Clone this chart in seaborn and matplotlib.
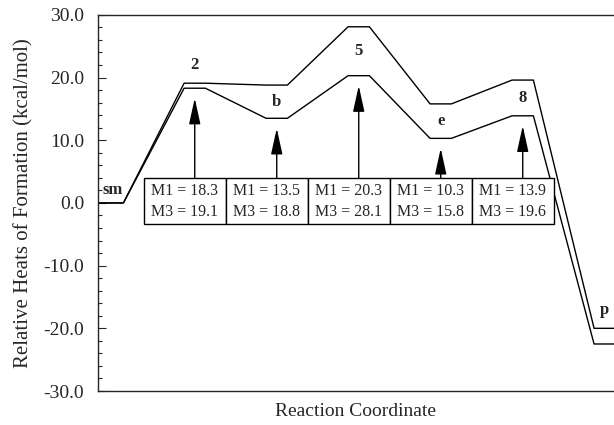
import numpy as np
import pandas as pd
import matplotlib.pyplot as plt
import matplotlib.patches as mpatches
from matplotlib.ticker import MultipleLocator, FormatStrFormatter
import seaborn as sns

# Relative heats of formation (kcal/mol) along the reaction coordinate
states = ['sm', '2', 'b', '5', 'e', '8', 'p']
m1 = [0.0, 18.3, 13.5, 20.3, 10.3, 13.9, -22.5]
m3 = [0.0, 19.1, 18.8, 28.1, 15.8, 19.6, -20.0]
boxed = ['2', 'b', '5', 'e', '8']

sns.set_style('ticks')
plt.rcParams['font.family'] = ['Liberation Serif', 'DejaVu Serif']

fig = plt.figure(figsize=(6.14, 4.25), dpi=100)
ax = fig.add_axes([0.1596, 0.08, 0.852, 0.885])
xmin, xmax = -0.18, 6.2
half = 0.13

# build the level diagram path for each method
rows = []
for method, vals in (('M1', m1), ('M3', m3)):
    for i, e in enumerate(vals):
        left = xmin if i == 0 else i - half
        rows.append({'method': method, 'x': left, 'E': e})
        rows.append({'method': method, 'x': i + half, 'E': e})
df = pd.DataFrame(rows)

sns.lineplot(data=df, x='x', y='E', hue='method', units='method', estimator=None,
             sort=False, palette={'M1': 'black', 'M3': 'black'}, linewidth=1.0,
             legend=False, ax=ax)

# state labels
for i, name in enumerate(states):
    lo, hi = min(m1[i], m3[i]), max(m1[i], m3[i])
    if hi - lo > 3:
        ly = (lo + hi) / 2
    elif hi == lo:
        ly = hi + 2.0
    else:
        ly = hi + 2.9
    ax.text(i, ly, name, ha='center', va='center', fontsize=12, fontweight='bold')

# value boxes with arrows pointing at the M1 level
box_top, box_bot = 4.0, -3.35
for name in boxed:
    i = states.index(name)
    rect = mpatches.Rectangle((i - 0.62, box_bot), 1.0, box_top - box_bot,
                              facecolor='white', edgecolor='black', linewidth=1.0, zorder=3)
    ax.add_patch(rect)
    ax.text(i - 0.12, (box_top + box_bot) / 2 - 0.1, f'M1 = {m1[i]:.1f}\nM3 = {m3[i]:.1f}',
            ha='center', va='center', fontsize=11.5, linespacing=1.45, zorder=4)
    ax.annotate('', xy=(i, m1[i] - 1.6), xytext=(i, box_top),
                arrowprops=dict(arrowstyle='-|>,head_length=1.0,head_width=0.22',
                                color='black', lw=1.0,
                                mutation_scale=16, shrinkA=0, shrinkB=0))

ax.set_xlim(xmin, xmax)
ax.set_ylim(-30, 30)
ax.yaxis.set_major_locator(MultipleLocator(10))
ax.yaxis.set_minor_locator(MultipleLocator(2))
ax.yaxis.set_major_formatter(FormatStrFormatter('%.1f'))
ax.tick_params(axis='y', which='major', direction='in', length=6, width=0.8,
               labelsize=14, pad=10)
ax.tick_params(axis='y', which='minor', direction='in', length=3, width=0.8)
ax.set_xticks([])
ax.spines['right'].set_visible(False)
for s in ('left', 'top', 'bottom'):
    ax.spines[s].set_linewidth(1.0)

ax.set_ylabel('Relative Heats of Formation (kcal/mol)', fontsize=15)
ax.yaxis.set_label_coords(-0.123, 0.5)
ax.set_xlabel('Reaction Coordinate', fontsize=14)
ax.xaxis.set_label_coords(0.493, -0.033)

fig.savefig('out.png', dpi=100)
